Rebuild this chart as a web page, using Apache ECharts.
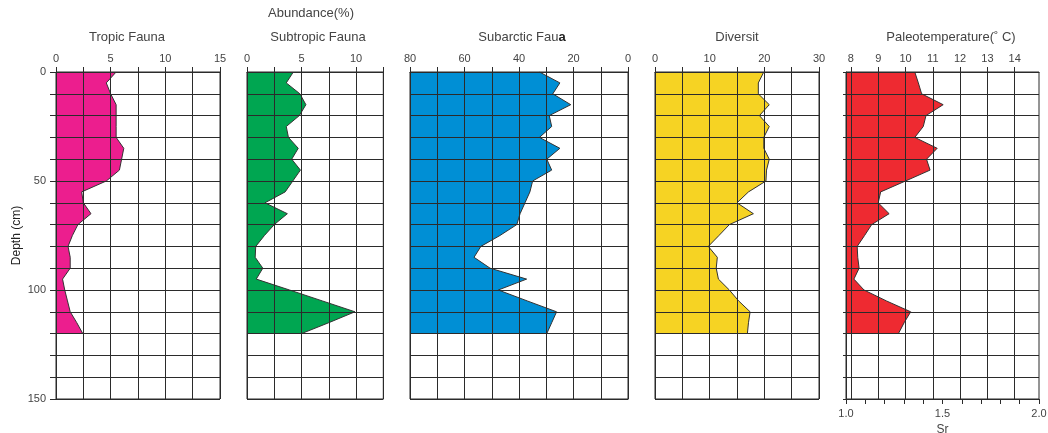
<!DOCTYPE html>
<html>
<head>
<meta charset="utf-8">
<script src="https://cdn.jsdelivr.net/npm/echarts@6/dist/echarts.min.js"></script>
<style>
  html, body { margin: 0; padding: 0; background: #fff; }
  #chart { width: 1048px; height: 433px; }
</style>
</head>
<body>
<div id="chart"></div>
<script>
// depth axis categories (cm), one every 5 cm
const depthLabels = ['0','5','10','15','20','25','30','35','40','45','50','55','60','65','70','75',
  '80','85','90','95','100','105','110','115','120','125','130','135','140','145','150']
// sample depths of the core
const depths = [0,5,10,15,20,25,30,35,40,45,50,55,60,65,70,75,80,85,90,95,100,105,110,115,120]

const tropic = [5.5,4.6,5.0,5.5,5.5,5.5,5.5,6.2,6.0,5.8,4.6,2.35,2.5,3.2,2.0,1.5,1.1,1.3,1.3,0.6,0.8,1.05,1.3,1.9,2.45]
const subtropic = [4.25,3.6,4.85,5.4,4.8,3.6,3.8,4.7,4.1,4.9,4.2,3.5,1.65,3.7,2.5,1.6,0.8,0.75,1.45,0.85,3.9,6.9,9.9,7.5,5.0]
const subarctic = [32.5,25,27.6,21,28.9,28,32.5,25,29.8,28,35,36,37.8,39.6,40.8,47,54,56.5,50.6,37.2,47.6,37,26.2,28,29.8]
const diversity = [19.9,18.9,18.9,20.9,19.1,20.9,19.9,19.9,20.9,20.4,20.3,17.1,15.0,18.0,13.6,11.7,9.75,11.4,11.2,11.6,13.6,15.3,17.4,17.1,16.9]
const paleoTemp = [10.34,10.47,10.59,11.38,10.75,10.65,10.34,11.16,10.77,10.9,10.0,9.09,9.0,9.4,8.76,8.5,8.23,8.25,8.3,8.11,8.48,9.3,10.19,9.95,9.74]

const tempTicks = [8, 9, 10, 11, 12, 13, 14]

const lineColor = '#2b2b2b'
const font = 'Liberation Sans, Arial, sans-serif'

const panels = [
  {left: 56, width: 164, min: 0, max: 15, interval: 2.5, step: 5, data: tropic, color: '#EC1E8E', origin: 'start'},
  {left: 247, width: 136.3, min: 0, max: 12.5, interval: 2.5, step: 5, data: subtropic, color: '#00A651', origin: 'start'},
  {left: 410, width: 218, min: 0, max: 80, interval: 10, step: 20, data: subarctic, color: '#008FD5', origin: 'end', inverse: true},
  {left: 655, width: 164, min: 0, max: 30, interval: 5, step: 10, data: diversity, color: '#F6D323', origin: 'start'},
  {left: 846, width: 193, min: 7.82, max: 14.89, data: paleoTemp, color: '#EE2A31', origin: 'start', custom: tempTicks}
]

const xAxes = panels.map((p, i) => {
  const ax = {
    gridIndex: i,
    type: 'value',
    position: 'top',
    min: p.min,
    max: p.max,
    inverse: !!p.inverse,
    z: 5,
    axisLine: {show: true, lineStyle: {color: lineColor}},
    axisTick: {show: true, inside: false, length: 5, lineStyle: {color: lineColor}},
    axisLabel: {fontSize: 11, color: '#444', margin: 8, fontFamily: font},
    splitLine: {show: !p.custom, lineStyle: {color: lineColor, width: 1}}
  }
  if (p.custom) {
    ax.axisTick.customValues = p.custom
    ax.axisLabel.customValues = p.custom
  } else {
    ax.interval = p.interval
    ax.axisLabel.formatter = v => (Math.abs(v / p.step - Math.round(v / p.step)) < 1e-6 ? String(v) : '')
  }
  return ax
})

// Sr scale under the temperature panel
xAxes.push({
  gridIndex: 4,
  type: 'value',
  position: 'bottom',
  min: 1,
  max: 2,
  interval: 0.1,
  z: 5,
  axisLine: {show: true, lineStyle: {color: lineColor}},
  axisTick: {show: true, length: 5, lineStyle: {color: lineColor}},
  axisLabel: {
    fontSize: 11, color: '#444', margin: 9, fontFamily: font,
    formatter: v => (Math.abs(v * 2 - Math.round(v * 2)) < 1e-6 ? v.toFixed(1) : '')
  },
  splitLine: {show: false},
  name: 'Sr',
  nameLocation: 'middle',
  nameGap: 21,
  nameTextStyle: {fontSize: 12, color: '#444', fontFamily: font}
})

const yAxes = panels.map((p, i) => ({
  gridIndex: i,
  type: 'category',
  data: depthLabels,
  inverse: true,
  boundaryGap: false,
  z: 5,
  axisLine: {show: true, lineStyle: {color: lineColor}},
  axisTick: {show: i === 0 || i === 4, interval: 1, length: i === 0 ? 6 : 3, lineStyle: {color: lineColor}},
  axisLabel: {show: i === 0, interval: 9, fontSize: 11, color: '#444', margin: 10, fontFamily: font},
  splitLine: {show: true, interval: 1, lineStyle: {color: lineColor, width: 1}},
  name: i === 0 ? 'Depth (cm)' : '',
  nameLocation: 'middle',
  nameGap: 33,
  nameTextStyle: {fontSize: 12, color: '#222', fontFamily: font}
}))

const series = panels.map((p, i) => {
  const s = {
    type: 'line',
    xAxisIndex: i,
    yAxisIndex: i,
    symbol: 'none',
    data: depths.map((d, k) => [p.data[k], String(d)]),
    lineStyle: {color: '#333', width: 1},
    areaStyle: {color: p.color, opacity: 1, origin: p.origin},
    z: 2
  }
  if (p.custom) {
    // vertical grid lines at whole degrees, over the fill
    s.markLine = {
      silent: true,
      symbol: 'none',
      label: {show: false},
      lineStyle: {color: lineColor, width: 1, type: 'solid'},
      data: p.custom.map(v => ({xAxis: v}))
    }
  }
  return s
})

const titleStyle = {font: '13px ' + font, fill: '#444', textAlign: 'center', textVerticalAlign: 'middle'}
const titles = [
  {x: 311, y: 13, text: 'Abundance(%)'},
  {x: 127, y: 37, text: 'Tropic Fauna'},
  {x: 318, y: 37, text: 'Subtropic Fauna'},
  {x: 737, y: 37, text: 'Diversit'},
  {x: 951, y: 37, text: 'Paleotemperature(˚ C)'}
]

const option = {
  animation: false,
  textStyle: {fontFamily: font},
  grid: panels.map(p => ({
    left: p.left, top: 72, width: p.width, height: 327,
    outerBoundsMode: 'none',
    show: true, borderColor: lineColor, borderWidth: 1, backgroundColor: 'transparent'
  })),
  xAxis: xAxes,
  yAxis: yAxes,
  series: series,
  graphic: titles.map(t => ({
    type: 'text', x: t.x, y: t.y, z: 10,
    style: Object.assign({}, titleStyle, {text: t.text})
  })).concat([{
    // the subarctic title has an overprinted last letter in the source
    type: 'text', x: 522, y: 37, z: 10,
    style: {
      text: '{a|Subarctic Fau}{b|a}',
      textAlign: 'center', textVerticalAlign: 'middle',
      rich: {
        a: {font: '13px ' + font, fill: '#444'},
        b: {font: 'bold 13px ' + font, fill: '#222'}
      }
    }
  }])
}

const chart = echarts.init(document.getElementById('chart'))
chart.setOption(option)
</script>
</body>
</html>
